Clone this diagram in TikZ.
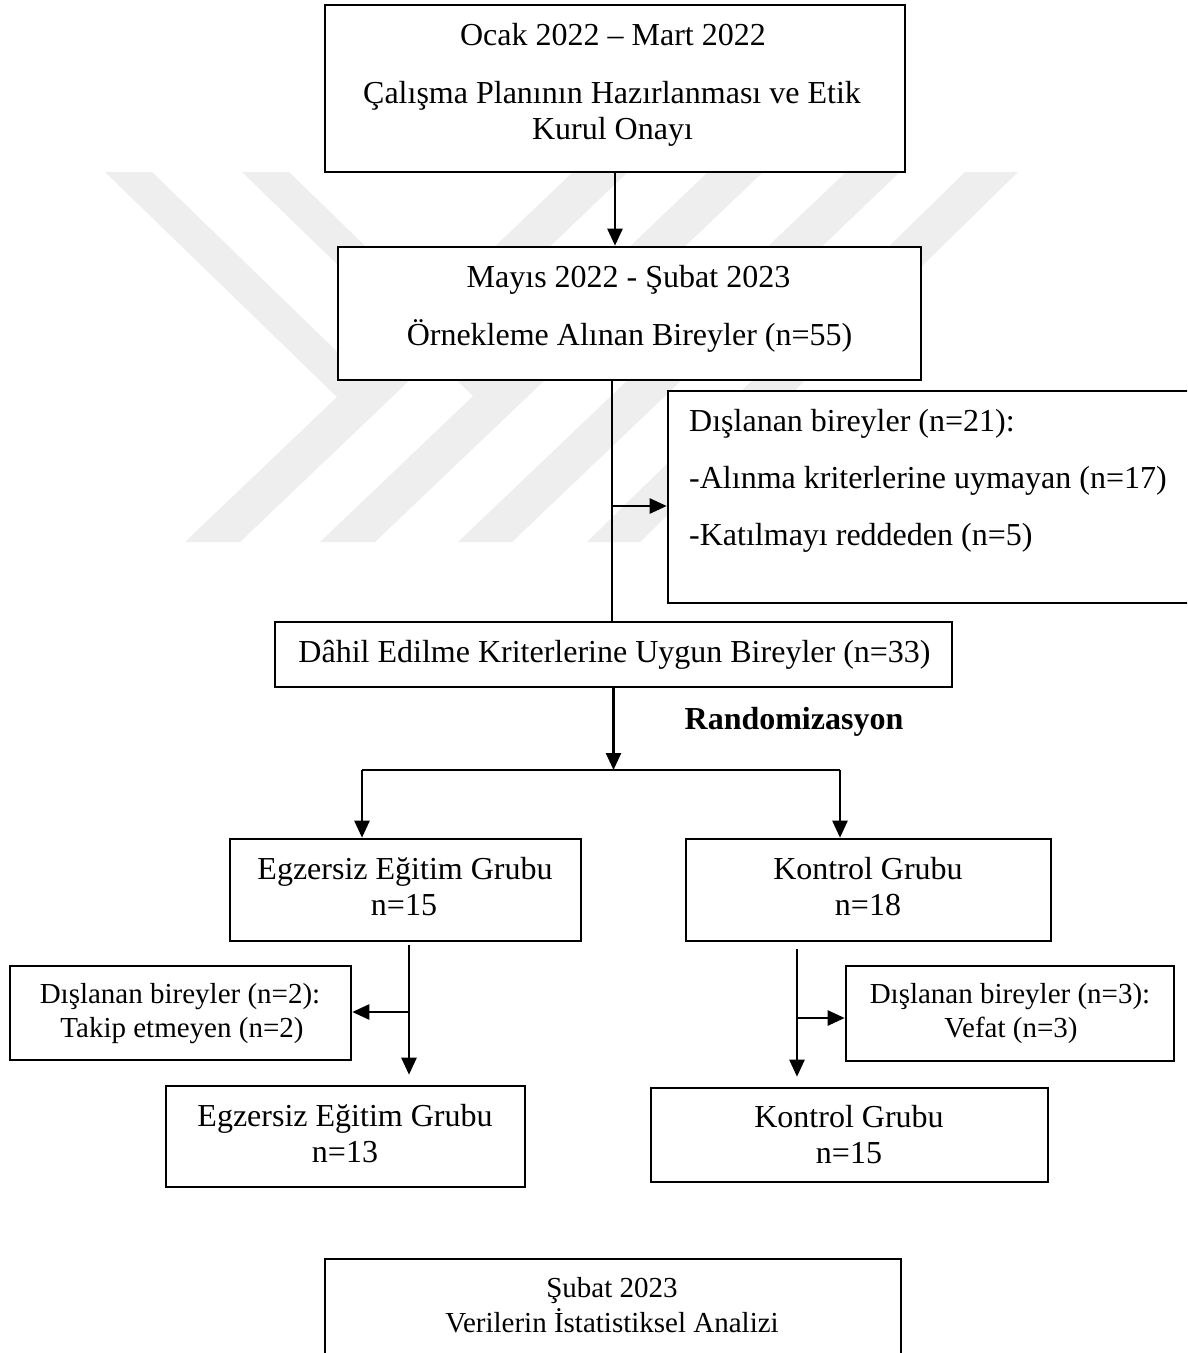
\documentclass[tikz,border=0pt]{standalone}
\usepackage{fontspec}
\setmainfont{Liberation Serif}
\usetikzlibrary{arrows.meta}
\definecolor{wmgray}{RGB}{238,238,238}
\tikzset{
  box/.style={draw=black, line width=2.6pt, fill=white, inner sep=0pt, rectangle},
  big/.style={font=\fontsize{32}{36}\selectfont, inner sep=0pt, anchor=base},
  small/.style={font=\fontsize{29}{34}\selectfont, inner sep=0pt, anchor=base},
  conn/.style={line width=2.5pt},
  arr/.style={line width=2.5pt, -{Triangle[length=17pt,width=15pt]}},
  wm/.style={fill=wmgray, draw=none}
}
\begin{document}
\begin{tikzpicture}[x=1pt,y=-1pt]
\useasboundingbox (0,0) rectangle (1187,1353);
\clip (0,0) rectangle (1187,1353);
\fill[white] (0,0) rectangle (1187,1353);
% watermark
\fill[wm] (105,172) -- (152,172) -- (360,374) -- (337,397) -- cycle;
\fill[wm] (185,542) -- (240,542) -- (628,172) -- (573,172) -- cycle;
\fill[wm] (242,172) -- (289,172) -- (497,374) -- (473,396) -- cycle;
\fill[wm] (320,542) -- (375,542) -- (763,172) -- (708,172) -- cycle;
\fill[wm] (458,542) -- (512,542) -- (900,172) -- (846,172) -- cycle;
\fill[wm] (587,542) -- (640,542) -- (1018,172) -- (965,172) -- cycle;
% boxes
\node[box, minimum width=580pt, minimum height=167pt] (b1) at (615,88.5) {};
\node[box, minimum width=583pt, minimum height=133pt] (b2) at (629.5,313.5) {};
\node[box, minimum width=542pt, minimum height=212pt] (ex1) at (939,497) {};
\node[box, minimum width=677pt, minimum height=65pt] (b3) at (613.5,654.5) {};
\node[box, minimum width=351pt, minimum height=102pt] (b4) at (405.5,890) {};
\node[box, minimum width=365pt, minimum height=102pt] (b5) at (868.5,890) {};
\node[box, minimum width=341pt, minimum height=94pt] (ex2) at (180.5,1013) {};
\node[box, minimum width=359pt, minimum height=101pt] (b6) at (345.5,1136.5) {};
\node[box, minimum width=328pt, minimum height=95pt] (ex3) at (1010,1013.5) {};
\node[box, minimum width=397pt, minimum height=94pt] (b7) at (849.5,1135) {};
\node[box, minimum width=576pt, minimum height=161pt] (b8) at (613,1339.5) {};
% texts
\node[big] (t1a) at (613,45) {Ocak 2022 – Mart 2022};
\node[big] (t1b) at (612,103) {Çalışma Planının Hazırlanması ve Etik};
\node[big] (t1c) at (612.5,139) {Kurul Onayı};
\node[big] (t2a) at (628.5,287) {Mayıs 2022 - Şubat 2023};
\node[big] (t2b) at (629.5,345) {Örnekleme Alınan Bireyler (n=55)};
\node[big, anchor=base west] (e1a) at (689,431) {Dışlanan bireyler (n=21):};
\node[big, anchor=base west] (e1b) at (689,488) {-Alınma kriterlerine uymayan (n=17)};
\node[big, anchor=base west] (e1c) at (689,545) {-Katılmayı reddeden (n=5)};
\node[big] (t3) at (614.5,662) {Dâhil Edilme Kriterlerine Uygun Bireyler (n=33)};
\node[big, font=\fontsize{32}{36}\selectfont\bfseries] (rand) at (794,729) {Randomizasyon};
\node[big] (t4a) at (405,879) {Egzersiz Eğitim Grubu};
\node[big] (t4b) at (404,915) {n=15};
\node[big] (t5a) at (868,879) {Kontrol Grubu};
\node[big] (t5b) at (868,915) {n=18};
\node[small] (e2a) at (180,1003) {Dışlanan bireyler (n=2):};
\node[small] (e2b) at (182,1037) {Takip etmeyen (n=2)};
\node[small] (e3a) at (1010,1003) {Dışlanan bireyler (n=3):};
\node[small] (e3b) at (1011,1037) {Vefat (n=3)};
\node[big] (t6a) at (345,1126) {Egzersiz Eğitim Grubu};
\node[big] (t6b) at (345,1162) {n=13};
\node[big] (t7a) at (849,1127) {Kontrol Grubu};
\node[big] (t7b) at (849,1163) {n=15};
\node[small] (t8a) at (612,1297) {Şubat 2023};
\node[small] (t8b) at (612,1332) {Verilerin İstatistiksel Analizi};
% connectors
\draw[arr] (b1.south) -- (b1.south |- b2.north);
\coordinate (j1) at (612,380);
\draw[conn] (j1) -- (j1 |- b3.north);
\coordinate (j2) at (612,506);
\draw[arr] (j2) -- (j2 -| ex1.west);
\coordinate (sl) at (362,770);
\coordinate (sr) at (840,770);
\draw[arr] (b3.south) -- (b3.south |- sl);
\draw[conn] (sl) -- (sr);
\draw[arr] (sl) -- (sl |- b4.north);
\draw[arr] (sr) -- (sr |- b5.north);
\coordinate (xl) at (409,0);
\coordinate (xr) at (797,0);
\draw[arr, shorten <=3pt, shorten >=10pt] (b4.south -| xl) -- (b6.north -| xl);
\coordinate (l3) at (409,1012);
\draw[arr] (l3) -- (l3 -| ex2.east);
\draw[arr, shorten <=7pt, shorten >=10pt] (b5.south -| xr) -- (b7.north -| xr);
\coordinate (r3) at (797,1018);
\draw[arr] (r3) -- (r3 -| ex3.west);
\end{tikzpicture}
\end{document}
